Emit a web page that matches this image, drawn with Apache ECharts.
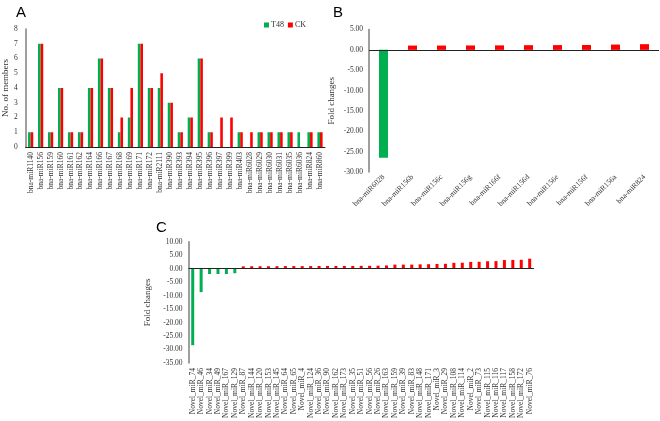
<!DOCTYPE html>
<html>
<head>
<meta charset="utf-8">
<script src="https://cdn.jsdelivr.net/npm/echarts@6/dist/echarts.min.js"></script>
<style>
  html, body { margin: 0; padding: 0; background: #fff; }
  #chart { width: 660px; height: 421px; }
</style>
</head>
<body>
<div id="chart"></div>
<script>
// Panel A: members per miRNA family
const familyNames = ['bna-miR1140', 'bna-miR156', 'bna-miR159', 'bna-miR160', 'bna-miR161', 'bna-miR162',
    'bna-miR164', 'bna-miR166', 'bna-miR167', 'bna-miR168', 'bna-miR169', 'bna-miR171', 'bna-miR172',
    'bna-miR2111', 'bna-miR390', 'bna-miR393', 'bna-miR394', 'bna-miR395', 'bna-miR396', 'bna-miR397',
    'bna-miR399', 'bna-miR403', 'bna-miR6028', 'bna-miR6029', 'bna-miR6030', 'bna-miR6031',
    'bna-miR6035', 'bna-miR6036', 'bna-miR824', 'bna-miR860'];
const membersT48 = [1, 7, 1, 4, 1, 1, 4, 6, 4, 1, 2, 7, 4, 4, 3, 1, 2, 6, 1, 0, 0, 1, 0, 1, 1, 1, 1, 1, 1, 1];
const membersCK = [1, 7, 1, 4, 1, 1, 4, 6, 4, 2, 4, 7, 4, 5, 3, 1, 2, 6, 1, 2, 2, 1, 1, 1, 1, 1, 1, 0, 1, 1];

// Panel B: known miRNA fold changes
const knownNames = ['bna-miR6028', 'bna-miR156b', 'bna-miR156c', 'bna-miR156g', 'bna-miR166f',
    'bna-miR156d', 'bna-miR156e', 'bna-miR156f', 'bna-miR156a', 'bna-miR824'];
const knownFold = [-26.5, 1.05, 1.06, 1.08, 1.1, 1.15, 1.17, 1.2, 1.3, 1.4];

// Panel C: novel miRNA fold changes
const novelNames = ['Novel_miR_74', 'Novel_miR_46', 'Novel_miR_34', 'Novel_miR_49', 'Novel_miR_167',
    'Novel_miR_129', 'Novel_miR_87', 'Novel_miR_144', 'Novel_miR_120', 'Novel_miR_153', 'Novel_miR_145',
    'Novel_miR_64', 'Novel_miR_65', 'Novel_miR_4', 'Novel_miR_124', 'Novel_miR_36', 'Novel_miR_90',
    'Novel_miR_162', 'Novel_miR_173', 'Novel_miR_35', 'Novel_miR_51', 'Novel_miR_56', 'Novel_miR_26',
    'Novel_miR_163', 'Novel_miR_159', 'Novel_miR_39', 'Novel_miR_83', 'Novel_miR_148', 'Novel_miR_171',
    'Novel_miR_3', 'Novel_miR_29', 'Novel_miR_108', 'Novel_miR_114', 'Novel_miR_2', 'Novel_miR_73',
    'Novel_miR_115', 'Novel_miR_116', 'Novel_miR_117', 'Novel_miR_158', 'Novel_miR_172', 'Novel_miR_76'];
const novelFold = [-28.4, -8.7, -2.0, -2.0, -2.0, -1.7, 0.85, 0.9, 0.9, 0.9, 0.92, 0.95, 0.95, 0.95,
    0.97, 0.98, 1.0, 1.0, 1.0, 1.02, 1.05, 1.05, 1.1, 1.2, 1.5, 1.5, 1.5, 1.6, 1.65, 1.75, 1.8,
    2.15, 2.2, 2.5, 2.55, 2.75, 2.8, 3.2, 3.25, 3.3, 3.7];

const GREEN = '#00b050';
const RED = '#ff0000';
const serif = 'Liberation Serif';

function upDownColor(p) {
    return p.value < 0 ? GREEN : RED;
}

function yAxisBase(grid, min, max, interval, name, gap, digits, margin) {
    return {
        type: 'value', gridIndex: grid, min: min, max: max, interval: interval,
        name: name, nameLocation: 'middle', nameGap: gap, nameRotate: 90,
        nameTextStyle: { fontFamily: serif, fontSize: 9, color: '#333' },
        axisLine: { show: true, lineStyle: { color: '#7f7f7f', width: 1.5 } },
        axisTick: { show: false },
        splitLine: { show: false },
        axisLabel: {
            fontFamily: serif, fontSize: 7.5, color: '#333', margin: margin,
            formatter: v => v.toFixed(digits)
        }
    };
}

function zeroLine() {
    return {
        silent: true, symbol: 'none', label: { show: false },
        lineStyle: { color: '#222', type: 'solid', width: 1.2 },
        data: [{ yAxis: 0 }]
    };
}

const panelTitle = { fontFamily: 'Liberation Sans', fontSize: 15, fontWeight: 'normal', color: '#000' };

const chart = echarts.init(document.getElementById('chart'), null, { renderer: 'canvas' });

chart.setOption({
    animation: false,
    title: [
        { text: 'A', left: 11, top: 0, textStyle: panelTitle },
        { text: 'B', left: 328, top: 0, textStyle: panelTitle },
        { text: 'C', left: 151, top: 215, textStyle: panelTitle }
    ],
    legend: {
        data: ['T48', 'CK'], left: 259, top: 16, itemWidth: 5, itemHeight: 5, itemGap: 4,
        textStyle: { fontFamily: serif, fontSize: 8, color: '#333', padding: [0, 0, 0, -3] },
        icon: 'rect'
    },
    grid: [
        { left: 22, top: 29, width: 303, height: 118 },
        { left: 369, top: 29.5, width: 290, height: 142.5 },
        { left: 188.5, top: 241.7, width: 345.4, height: 124.3 }
    ],
    xAxis: [
        {
            type: 'category', gridIndex: 0, data: familyNames,
            axisLine: { lineStyle: { color: '#222', width: 1.2 } },
            axisTick: { show: false },
            axisLabel: { interval: 0, rotate: 90, fontFamily: serif, fontSize: 7.5, color: '#333', margin: 5 }
        },
        {
            type: 'category', gridIndex: 1, data: knownNames,
            axisLine: { show: false, onZero: false },
            axisTick: { show: false },
            axisLabel: { interval: 0, rotate: 45, fontFamily: serif, fontSize: 7.5, color: '#333', margin: 4 }
        },
        {
            type: 'category', gridIndex: 2, data: novelNames,
            axisLine: { show: false, onZero: false },
            axisTick: { show: false },
            axisLabel: { interval: 0, rotate: 90, fontFamily: serif, fontSize: 7.5, color: '#333', margin: 5 }
        }
    ],
    yAxis: [
        yAxisBase(0, 0, 8, 1, 'No. of members', 15, 0, 8),
        yAxisBase(1, -30, 5, 5, 'Fold changes', 33, 2, 6),
        yAxisBase(2, -35, 10, 5, 'Fold changes', 33, 2, 6)
    ],
    series: [
        {
            name: 'T48', type: 'bar', xAxisIndex: 0, yAxisIndex: 0, data: membersT48,
            barWidth: 2.6, barGap: '0%', itemStyle: { color: GREEN }
        },
        {
            name: 'CK', type: 'bar', xAxisIndex: 0, yAxisIndex: 0, data: membersCK,
            barWidth: 2.6, barGap: '0%', itemStyle: { color: RED }
        },
        {
            name: 'known', type: 'bar', xAxisIndex: 1, yAxisIndex: 1, data: knownFold,
            barWidth: 9, itemStyle: { color: upDownColor }, markLine: zeroLine()
        },
        {
            name: 'novel', type: 'bar', xAxisIndex: 2, yAxisIndex: 2, data: novelFold,
            barWidth: 3, itemStyle: { color: upDownColor }, markLine: zeroLine()
        }
    ]
});
</script>
</body>
</html>
